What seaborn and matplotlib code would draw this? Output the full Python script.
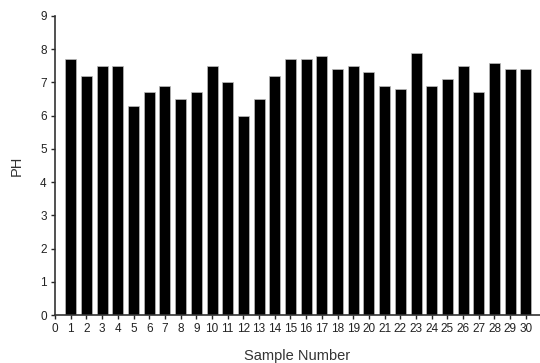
import matplotlib
matplotlib.use("Agg")
import matplotlib.pyplot as plt
import seaborn as sns
import numpy as np

# pH per sample
samples = list(range(1, 31))
ph = [7.7, 7.2, 7.5, 7.5, 6.3, 6.7, 6.9, 6.5, 6.7, 7.5,
      7.0, 6.0, 6.5, 7.2, 7.7, 7.7, 7.8, 7.4, 7.5, 7.3,
      6.9, 6.8, 7.9, 6.9, 7.1, 7.5, 6.7, 7.6, 7.4, 7.4]
xticks = list(range(0, 31))
yticks = list(range(0, 10))

sns.set_style("ticks")
plt.rcParams['font.family'] = ['Liberation Sans', 'DejaVu Sans']

fig = plt.figure(figsize=(5.4, 3.63), dpi=100)
ax = fig.add_axes([0.102, 0.132, 0.898, 0.824])

sns.barplot(x=samples, y=ph, native_scale=True, color="black",
            width=0.7, edgecolor="#bbbbbb", linewidth=0.5, saturation=1, ax=ax)

ax.set_xlim(0, 30.9)
ax.set_ylim(0, 9)
ax.set_xticks(xticks)
ax.set_xticklabels([str(t) for t in xticks], fontsize=8.5, color="#222222")
ax.set_yticks(yticks)
ax.set_yticklabels([str(t) for t in yticks], fontsize=8.5, color="#222222")
ax.tick_params(direction="out", length=3, width=1, pad=3)
ax.set_xlabel("Sample Number", fontsize=10.5, color="#333333", labelpad=10)
ax.set_ylabel("PH", fontsize=10.5, color="#333333", labelpad=12)

for s in ["top", "right"]:
    ax.spines[s].set_visible(False)
for s in ["left", "bottom"]:
    ax.spines[s].set_linewidth(1.2)
    ax.spines[s].set_color("#333333")

fig.savefig("out.png", dpi=100)
